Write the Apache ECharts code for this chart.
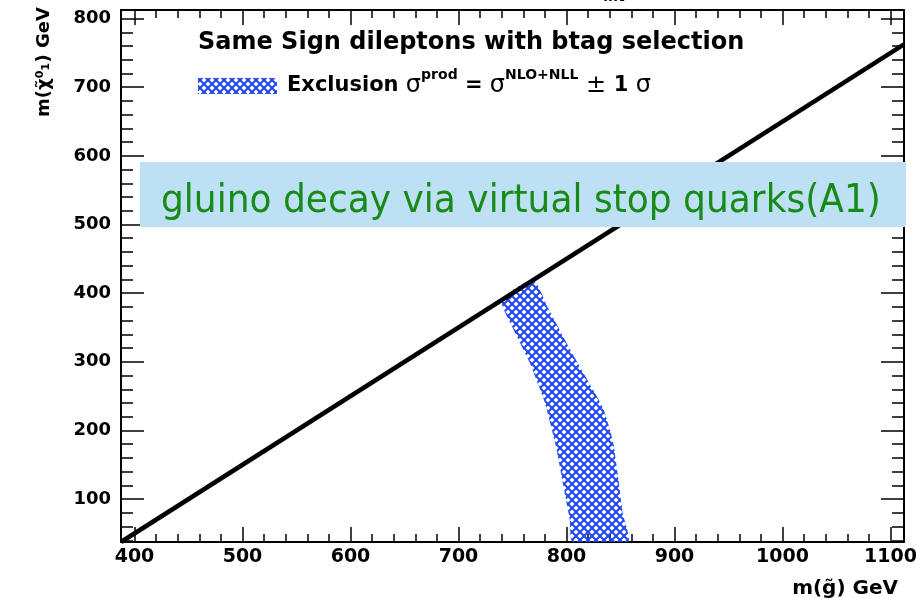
<!DOCTYPE html>
<html>
<head>
<meta charset="utf-8">
<script src="https://cdn.jsdelivr.net/npm/echarts@6/dist/echarts.min.js"></script>
<style>
html,body{margin:0;padding:0;background:#fff;}
#chart{width:917px;height:598px;}
</style>
</head>
<body>
<div id="chart"></div>
<script>
// ---- data ----
const xMajorTicks = [400, 500, 600, 700, 800, 900, 1000, 1100];
const xMinorTicks = [400, 420, 440, 460, 480, 500, 520, 540, 560, 580, 600, 620, 640, 660, 680, 700, 720, 740, 760, 780, 800, 820, 840, 860, 880, 900, 920, 940, 960, 980, 1000, 1020, 1040, 1060, 1080, 1100];
const yMajorTicks = [100, 200, 300, 400, 500, 600, 700, 800];
const yMinorTicks = [40, 60, 80, 100, 120, 140, 160, 180, 200, 220, 240, 260, 280, 300, 320, 340, 360, 380, 400, 420, 440, 460, 480, 500, 520, 540, 560, 580, 600, 620, 640, 660, 680, 700, 720, 740, 760, 780, 800];
const xRange = [387.5, 1112.5];
const yRange = [37.5, 812.5];
// kinematic limit line m(chi) = m(gluino) - 350
const kinematicX = [387.5, 1112.5];
const kinematicY = [37.5, 762.5];
// exclusion band (+-1 sigma) edges
const bandLowX = [740, 750, 765, 779, 790, 798, 803, 806];
const bandLowY = [390, 350, 302, 245, 178, 112, 70, 37.5];
const bandHighX = [769, 783, 802, 817, 834, 843, 848, 852, 857];
const bandHighY = [419, 378, 322, 280, 232, 184, 130, 80, 37.5];

const titleText = 'Same Sign dileptons with btag selection';
const overlayText = 'gluino decay via virtual stop quarks(A1)';
const xTitle = 'm(g\u0303) GeV';
const yTitle = 'm(\u03C7\u0303\u2070\u2081) GeV';

// ---- hatch pattern ----
const BLUE = '#1f45f2';
function makeHatch() {
  const s = 8;
  const c = document.createElement('canvas');
  c.width = s; c.height = s;
  const ctx = c.getContext('2d');
  ctx.strokeStyle = BLUE;
  ctx.lineWidth = 2;
  for (const k of [-s, 0, s]) {
    ctx.beginPath(); ctx.moveTo(k, 0); ctx.lineTo(k + s, s); ctx.stroke();
    ctx.beginPath(); ctx.moveTo(k + s, 0); ctx.lineTo(k, s); ctx.stroke();
  }
  return { image: c, repeat: 'repeat' };
}
const hatch = makeHatch();

const FONT = 'DejaVu Sans';
const plainNum = v => String(Math.round(v));
function xAx(pos, ticks, len, showLine, showLabel) {
  return {
    type: 'value', position: pos, min: xRange[0], max: xRange[1],
    axisLine: { show: showLine, onZero: false, lineStyle: { color: '#000', width: 2 } },
    axisTick: { show: true, inside: true, length: len, customValues: ticks, lineStyle: { color: '#000', width: 1.5 } },
    axisLabel: { show: showLabel, customValues: ticks, formatter: plainNum, color: '#000', fontFamily: FONT, fontWeight: 'bold', fontSize: 19, margin: 6 },
    splitLine: { show: false }, minorTick: { show: false }
  };
}
function yAx(pos, ticks, len, showLine, showLabel) {
  return {
    type: 'value', position: pos, min: yRange[0], max: yRange[1],
    axisLine: { show: showLine, onZero: false, lineStyle: { color: '#000', width: 2 } },
    axisTick: { show: true, inside: true, length: len, customValues: ticks, lineStyle: { color: '#000', width: 1.5 } },
    axisLabel: { show: showLabel, customValues: ticks, formatter: plainNum, color: '#000', fontFamily: FONT, fontWeight: 'bold', fontSize: 18, margin: 10 },
    splitLine: { show: false }, minorTick: { show: false }
  };
}

const chart = echarts.init(document.getElementById('chart'), null, { renderer: 'canvas' });
chart.setOption({
  animation: false,
  backgroundColor: '#fff',
  grid: { left: 121, right: 13, top: 10, bottom: 56, containLabel: false, outerBoundsMode: 'none' },
  xAxis: [
    xAx('bottom', xMajorTicks, 15, true, true),
    xAx('bottom', xMinorTicks, 8, false, false),
    xAx('top', xMajorTicks, 15, true, false),
    xAx('top', xMinorTicks, 8, false, false)
  ],
  yAxis: [
    yAx('left', yMajorTicks, 23, true, true),
    yAx('left', yMinorTicks, 12, false, false),
    yAx('right', yMajorTicks, 23, true, false),
    yAx('right', yMinorTicks, 12, false, false)
  ],
  series: [
    {
      type: 'custom', name: 'Exclusion', xAxisIndex: 0, yAxisIndex: 0, z: 3, clip: true,
      data: [[bandLowX[0], bandLowY[0]]],
      renderItem: function (params, api) {
        const pts = [];
        for (let i = 0; i < bandLowX.length; i++) pts.push(api.coord([bandLowX[i], bandLowY[i]]));
        for (let i = bandHighX.length - 1; i >= 0; i--) pts.push(api.coord([bandHighX[i], bandHighY[i]]));
        return { type: 'polygon', shape: { points: pts, smooth: 0.2 }, style: { fill: hatch, stroke: null } };
      }
    },
    {
      type: 'line', name: 'kinematic', xAxisIndex: 0, yAxisIndex: 0, z: 5, clip: true,
      symbol: 'none', silent: true,
      data: kinematicX.map((x, i) => [x, kinematicY[i]]),
      lineStyle: { color: '#000', width: 4.5 }
    }
  ],
  graphic: [
    { type: 'text', x: 614, y: -2.7, z: 50,
      style: { text: 'int', fontFamily: FONT, fontWeight: 'bold', fontSize: 14, fill: '#000', align: 'center', verticalAlign: 'middle' } },
    { type: 'text', x: 198, y: 43, z: 50,
      style: { text: titleText, fontFamily: FONT, fontWeight: 'bold', fontSize: 24, fill: '#000', align: 'left', verticalAlign: 'middle' } },
    { type: 'rect', z: 50, shape: { x: 198, y: 78, width: 79, height: 16 }, style: { fill: hatch, stroke: null } },
    { type: 'text', x: 287, y: 68, z: 50,
      style: {
        text: '{b|Exclusion }{g|\u03C3}{sup|prod}{b| = }{g|\u03C3}{sup|NLO+NLL}{g| \u00B1 }{b|1 }{g|\u03C3}',
        align: 'left', verticalAlign: 'top', fill: '#000',
        rich: {
          b: { fontFamily: FONT, fontWeight: 'bold', fontSize: 21, lineHeight: 36, fill: '#000' },
          g: { fontFamily: FONT, fontWeight: 'normal', fontSize: 24, lineHeight: 36, fill: '#000' },
          sup: { fontFamily: FONT, fontWeight: 'bold', fontSize: 14, lineHeight: 14, verticalAlign: 'top', fill: '#000' }
        }
      } },
    { type: 'text', x: 898, y: 589, z: 50,
      style: { text: xTitle, fontFamily: FONT, fontWeight: 'bold', fontSize: 20, fill: '#000', align: 'right', verticalAlign: 'middle' } },
    { type: 'text', x: 44, y: 62, rotation: Math.PI / 2, z: 50,
      style: { text: yTitle, fontFamily: FONT, fontWeight: 'bold', fontSize: 18, fill: '#000', align: 'center', verticalAlign: 'middle' } },
    { type: 'rect', z: 100, shape: { x: 140, y: 162, width: 766, height: 65 }, style: { fill: '#bee0f4', stroke: null } },
    { type: 'text', x: 161, y: 201.5, scaleY: 1.1, z: 101,
      style: { text: overlayText, fontFamily: FONT, fontWeight: 'normal', fontSize: 36, fill: '#178a17', align: 'left', verticalAlign: 'middle' } }
  ]
});
</script>
</body>
</html>
